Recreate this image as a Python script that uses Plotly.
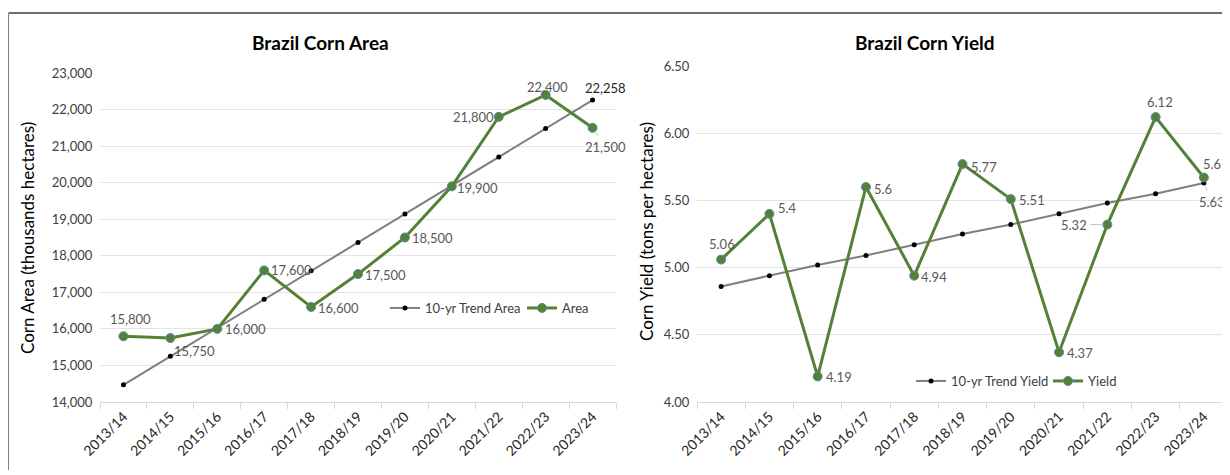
import plotly.graph_objects as go

seasons = ["2013/14", "2014/15", "2015/16", "2016/17", "2017/18", "2018/19",
           "2019/20", "2020/21", "2021/22", "2022/23", "2023/24"]

area = [15800, 15750, 16000, 17600, 16600, 17500, 18500, 19900, 21800, 22400, 21500]
area_trend = [14470, 15250, 16030, 16810, 17590, 18360, 19140, 19920, 20700, 21480, 22258]

yld = [5.06, 5.4, 4.19, 5.6, 4.94, 5.77, 5.51, 4.37, 5.32, 6.12, 5.67]
yld_trend = [4.86, 4.94, 5.02, 5.09, 5.17, 5.25, 5.32, 5.40, 5.48, 5.55, 5.63]

# label offsets (px) for each data label: (dx, dy, leader line?)
area_lbl_pos = [(7, -17, True), (24, 13, True), (28, 0, False), (27, 0, False),
                (27, 1, False), (27, 1, False), (28, 0, False), (26, 2, False),
                (-25, 0, False), (2, -8, False), (13, 19, True)]
yld_lbl_pos = [(1, -16, True), (18, -6, True), (21, 1, False), (17, 2, False),
               (20, 1, False), (21, 3, False), (21, 1, False), (21, 1, False),
               (-33, 0, True), (4, -15, False), (12, -14, True)]

GREEN = "#548235"
GRAY = "#7f7f7f"
LBL = "#595959"
FONT = "Lato, Carlito, Calibri, sans-serif"
W, H = 1230, 475
OFF = 8  # page body margin: the figure is drawn 8px in from the window corner


def px(x):
    return (x - OFF) / W


def py(y):
    return 1 - (y - OFF) / H


fig = go.Figure()

fig.add_trace(go.Scatter(
    x=seasons, y=area_trend, name="10-yr Trend Area", mode="lines+markers",
    line=dict(color=GRAY, width=2), marker=dict(color="black", size=5),
    xaxis="x", yaxis="y", legend="legend",
))
fig.add_trace(go.Scatter(
    x=seasons, y=area, name="Area", mode="lines+markers",
    line=dict(color=GREEN, width=3),
    marker=dict(color=GREEN, size=9, line=dict(color="#5b87a8", width=1)),
    xaxis="x", yaxis="y", legend="legend",
))
fig.add_trace(go.Scatter(
    x=seasons, y=yld_trend, name="10-yr Trend Yield", mode="lines+markers",
    line=dict(color=GRAY, width=2), marker=dict(color="black", size=5),
    xaxis="x2", yaxis="y2", legend="legend2",
))
fig.add_trace(go.Scatter(
    x=seasons, y=yld, name="Yield", mode="lines+markers",
    line=dict(color=GREEN, width=3),
    marker=dict(color=GREEN, size=9, line=dict(color="#5b87a8", width=1)),
    xaxis="x2", yaxis="y2", legend="legend2",
))

annotations = []


def add_label(xref, yref, x, y, text, pos, color=LBL):
    dx, dy, leader = pos
    if leader:
        annotations.append(dict(
            x=x, y=y, xref=xref, yref=yref, text=text, showarrow=True,
            ax=dx, ay=dy, arrowhead=0, arrowwidth=1, arrowcolor="#bfbfbf",
            standoff=4, startstandoff=2,
            font=dict(family=FONT, size=13, color=color),
        ))
    else:
        annotations.append(dict(
            x=x, y=y, xref=xref, yref=yref, text=text, showarrow=False,
            xshift=dx, yshift=-dy, xanchor="center", yanchor="middle",
            font=dict(family=FONT, size=13, color=color),
        ))


for s, v, p in zip(seasons, area, area_lbl_pos):
    add_label("x", "y", s, v, f"{v:,}", p)
add_label("x", "y", seasons[-1], area_trend[-1], f"{area_trend[-1]:,}", (13, -12, False), "#262626")

for s, v, p in zip(seasons, yld, yld_lbl_pos):
    add_label("x2", "y2", s, v, f"{v:g}", p)
add_label("x2", "y2", seasons[-1], yld_trend[-1], f"{yld_trend[-1]:.2f}", (8, 19, True))

# titles
paper_txt = dict(xref="paper", yref="paper", showarrow=False, xanchor="center", yanchor="middle")
annotations += [
    dict(paper_txt, text="<b>Brazil Corn Area</b>", x=px(320), y=py(42),
         font=dict(family=FONT, size=19, color="black")),
    dict(paper_txt, text="<b>Brazil Corn Yield</b>", x=px(925), y=py(42),
         font=dict(family=FONT, size=19, color="black")),
    dict(paper_txt, text="Corn Area (thousands hectares)", x=px(28), y=py(238), textangle=-90,
         font=dict(family=FONT, size=17, color="black")),
    dict(paper_txt, text="Corn Yield (tons per hectares)", x=px(646), y=py(232), textangle=-90,
         font=dict(family=FONT, size=17, color="black")),
]

xax = dict(type="category", range=[-0.5, 10.5], showline=True, linecolor="#d9d9d9",
           ticks="outside", tickson="boundaries", ticklen=6, tickcolor="#d9d9d9",
           tickangle=-45, showgrid=False, automargin=False,
           tickfont=dict(family=FONT, size=14, color="#262626"))
yax = dict(showgrid=True, gridcolor="#e3e3e3", zeroline=False, showline=False,
           ticks="", automargin=False, tickfont=dict(family=FONT, size=13, color="#404040"))
leg = dict(orientation="h", xanchor="left", yanchor="middle", bgcolor="rgba(0,0,0,0)",
           entrywidth=92, entrywidthmode="pixels",
           font=dict(family=FONT, size=13, color="#404040"))

fig.update_layout(
    width=W, height=H,
    margin=dict(l=0, r=0, t=0, b=0, autoexpand=False),
    paper_bgcolor="white", plot_bgcolor="white",
    xaxis=dict(xax, domain=[px(100), px(616)], anchor="y"),
    yaxis=dict(yax, domain=[py(402), py(73)], range=[14000, 23000], dtick=1000,
               tickformat=",", anchor="x", ticksuffix="  "),
    xaxis2=dict(xax, domain=[px(697), px(1228)], anchor="y2"),
    yaxis2=dict(yax, domain=[py(402), py(66)], range=[4, 6.5], dtick=0.5,
                tickformat=".2f", anchor="x2", ticksuffix="  "),
    legend=dict(leg, x=px(385), y=py(308)),
    legend2=dict(leg, x=px(911), y=py(381)),
    annotations=annotations,
    shapes=[
        dict(type="line", xref="paper", yref="paper", x0=px(8.5), x1=1,
             y0=py(13), y1=py(13), line=dict(color="#404040", width=1.5)),
        dict(type="line", xref="paper", yref="paper", x0=px(8.5), x1=px(8.5),
             y0=py(470), y1=py(13), line=dict(color="#808080", width=1)),
    ],
)

fig.write_html("out.html")
